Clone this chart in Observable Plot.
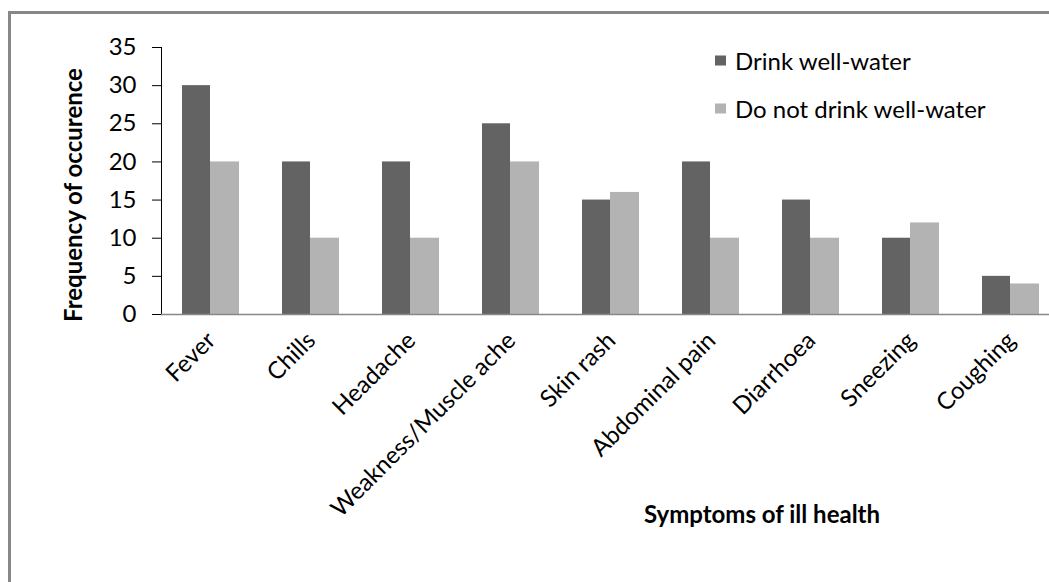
<!DOCTYPE html>
<html>
<head>
<meta charset="utf-8">
<script src="https://cdn.jsdelivr.net/npm/d3@7"></script>
<script src="https://cdn.jsdelivr.net/npm/@observablehq/plot@0.6"></script>
<style>
  body { margin: 0; background: #fff; }
  #chart { position: relative; width: 1049px; height: 582px; overflow: hidden; font-family: Lato, sans-serif; color: #000; }
  #chart svg { position: absolute; left: 0; top: 0; }
  #chart svg text { font-size: 24px; fill: #000; }
  #chart svg g[aria-label="y-axis"] line,
  #chart svg g[aria-label="y-axis"] path,
  #chart svg g[aria-label="rule"] line { stroke: #888; stroke-width: 1.5px; }
  .border { position: absolute; left: 8px; top: 11px; width: 1100px; height: 700px;
            border-top: 3px solid #888; border-left: 3px solid #888; pointer-events: none; }
  .legend-row { position: absolute; left: 715px; display: flex; align-items: center; font-size: 24px; white-space: nowrap; }
  .legend-row .sw { width: 11px; height: 10px; margin-right: 9px; }
  .title { position: absolute; font-weight: bold; font-size: 24px; white-space: nowrap; }
  .y-title { left: 72px; top: 195px; transform: translate(-50%, -50%) rotate(-90deg); }
  .x-title { left: 762px; top: 513px; transform: translate(-50%, -50%); }
</style>
</head>
<body>
<div id="chart"></div>
<script>
// Reported frequency of each symptom, by drinking-water source
const symptoms = ["Fever", "Chills", "Headache", "Weakness/Muscle ache", "Skin rash",
                  "Abdominal pain", "Diarrhoea", "Sneezing", "Coughing"];
const drinkWell = [30, 20, 20, 25, 15, 20, 15, 10, 5];
const noDrinkWell = [20, 10, 10, 20, 16, 10, 10, 12, 4];
const seriesNames = ["Drink well-water", "Do not drink well-water"];
const seriesColors = ["#636363", "#b3b3b3"];
const yTicks = [0, 5, 10, 15, 20, 25, 30, 35];

const rows = symptoms.map((s, i) => ({symptom: s, drink: drinkWell[i], noDrink: noDrinkWell[i]}));

const plot = Plot.plot({
  width: 1049,
  height: 582,
  marginLeft: 161,
  marginRight: -12,
  marginTop: 47,
  marginBottom: 268,
  style: {fontFamily: "Lato, sans-serif", fontSize: "24px", color: "#000", background: "none"},
  x: {domain: symptoms, padding: 0, label: null, axis: "bottom", tickSize: 0, tickPadding: 22, tickRotate: -45},
  y: {domain: [0, 35], ticks: yTicks, label: null, tickSize: 9, tickPadding: 16, line: true},
  marks: [
    Plot.barY(rows, {x: "symptom", y: "drink", fill: seriesColors[0], insetLeft: 21, insetRight: 51}),
    Plot.barY(rows, {x: "symptom", y: "noDrink", fill: seriesColors[1], insetLeft: 49, insetRight: 22}),
    Plot.ruleY([0], {stroke: "#888", strokeWidth: 1.5})
  ]
});

const chart = document.getElementById("chart");
chart.appendChild(plot);

const border = document.createElement("div");
border.className = "border";
chart.appendChild(border);

// Legend placed inside the plot area, top right
const legendTops = [60, 108];
seriesNames.forEach((name, i) => {
  const row = document.createElement("div");
  row.className = "legend-row";
  row.style.top = legendTops[i] + "px";
  row.style.transform = "translateY(-50%)";
  const sw = document.createElement("span");
  sw.className = "sw";
  sw.style.background = seriesColors[i];
  const label = document.createElement("span");
  label.textContent = name;
  row.append(sw, label);
  chart.appendChild(row);
});

const yTitle = document.createElement("div");
yTitle.className = "title y-title";
yTitle.textContent = "Frequency of occurence";
chart.appendChild(yTitle);

const xTitle = document.createElement("div");
xTitle.className = "title x-title";
xTitle.textContent = "Symptoms of ill health";
chart.appendChild(xTitle);
</script>
</body>
</html>
